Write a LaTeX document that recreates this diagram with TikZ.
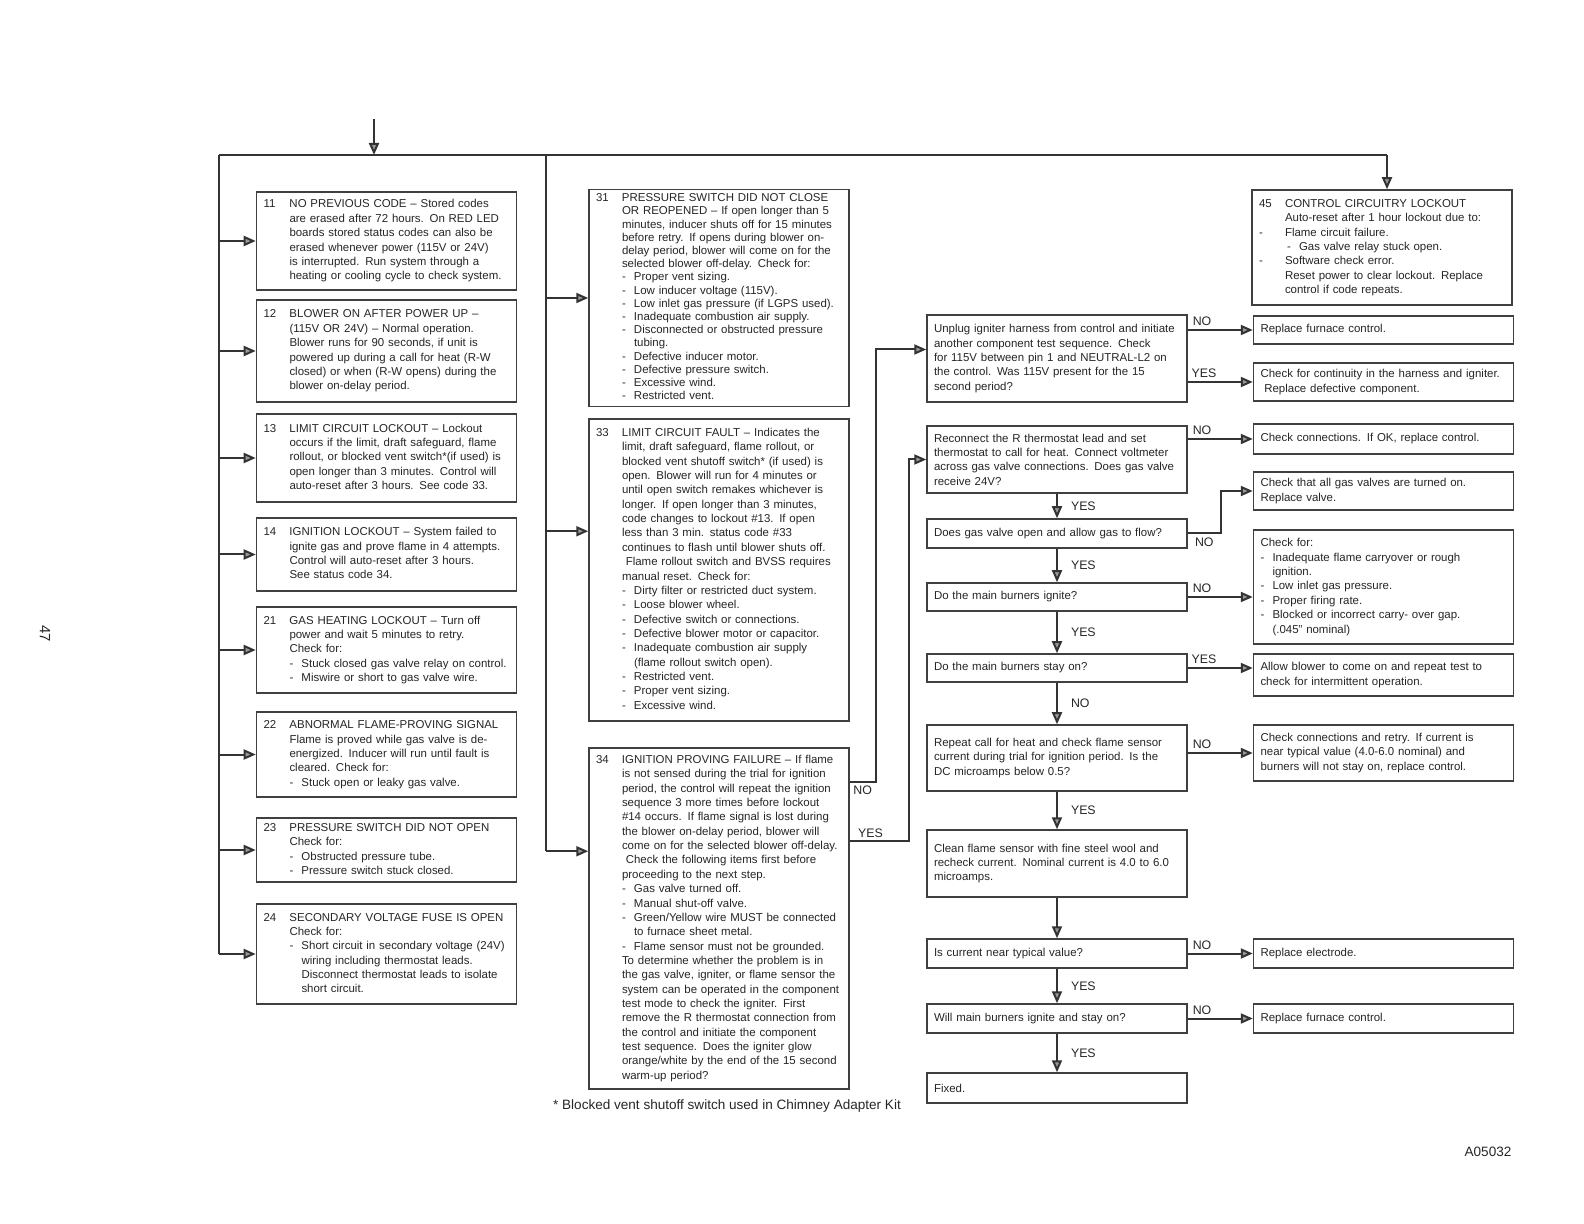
\documentclass[tikz,border=0pt]{standalone}
\usepackage{fontspec}
\setmainfont{Liberation Sans}
\usetikzlibrary{arrows.meta, calc}
\setlength{\parindent}{0pt}

\newcommand{\boxfont}{\fontsize{5.75}{7.2}\selectfont}
\newcommand{\bul}{\makebox[6bp][l]{-}}
\newcommand{\ind}{\hspace*{6bp}}
\newcommand{\ctab}[1]{\begin{tabular}{@{}p{13bp}@{}l@{}}#1\end{tabular}}

\begin{document}
\begin{tikzpicture}[
    x=0.5bp, y=-0.5bp,
    box/.style={rectangle, draw=black!75, line width=0.75bp, fill=white, text=black!85, font=\boxfont, align=left, text width=123bp, minimum width=130bp, inner xsep=3.5bp, inner ysep=1.5bp},
    arrow/.style={-{Triangle[length=6bp, width=5bp, fill=black!40]}, line width=1bp, black!80},
    bus/.style={line width=1bp, black!80},
    lab/.style={font=\fontsize{6.2}{7}\selectfont, text=black!85, inner sep=1.5bp}
]
\useasboundingbox (0,0) rectangle (1584,1224);

% status codes, left column
\node[box, minimum height=49bp] (c11) at (386.5,241) {\ctab{11 & NO PREVIOUS CODE -- Stored codes\\
 & are erased after 72 hours.  On RED LED\\
 & boards stored status codes can also be\\
 & erased whenever power (115V or 24V)\\
 & is interrupted.  Run system through a\\
 & heating or cooling cycle to check system.}};
\node[box, minimum height=51bp] (c12) at (386.5,351) {\ctab{12 & BLOWER ON AFTER POWER UP --\\
 & (115V OR 24V) -- Normal operation.\\
 & Blower runs for 90 seconds, if unit is\\
 & powered up during a call for heat (R-W\\
 & closed) or when (R-W opens) during the\\
 & blower on-delay period.}};
\node[box, minimum height=44bp] (c13) at (386.5,458) {\ctab{13 & LIMIT CIRCUIT LOCKOUT -- Lockout\\
 & occurs if the limit, draft safeguard, flame\\
 & rollout, or blocked vent switch*(if used) is\\
 & open longer than 3 minutes.  Control will\\
 & auto-reset after 3 hours.  See code 33.}};
\node[box, minimum height=36.5bp] (c14) at (386.5,554.5) {\ctab{14 & IGNITION LOCKOUT -- System failed to\\
 & ignite gas and prove flame in 4 attempts.\\
 & Control will auto-reset after 3 hours.\\
 & See status code 34.}};
\node[box, minimum height=43bp] (c21) at (386.5,650) {\ctab{21 & GAS HEATING LOCKOUT -- Turn off\\
 & power and wait 5 minutes to retry.\\
 & Check for:\\
 & \bul Stuck closed gas valve relay on control.\\
 & \bul Miswire or short to gas valve wire.}};
\node[box, minimum height=42.5bp] (c22) at (386.5,754.5) {\ctab{22 & ABNORMAL FLAME-PROVING SIGNAL\\
 & Flame is proved while gas valve is de-\\
 & energized.  Inducer will run until fault is\\
 & cleared.  Check for:\\
 & \bul Stuck open or leaky gas valve.}};
\node[box, minimum height=32bp] (c23) at (386.5,850) {\ctab{23 & PRESSURE SWITCH DID NOT OPEN\\
 & Check for:\\
 & \bul Obstructed pressure tube.\\
 & \bul Pressure switch stuck closed.}};
\node[box, minimum height=50bp] (c24) at (386.5,954) {\ctab{24 & SECONDARY VOLTAGE FUSE IS OPEN\\
 & Check for:\\
 & \bul Short circuit in secondary voltage (24V)\\
 & \ind wiring including thermostat leads.\\
 & \ind Disconnect thermostat leads to isolate\\
 & \ind short circuit.}};

% status codes, middle column
\node[box, minimum height=106bp] (c31) at (719,298) {\def\arraystretch{0.92}\ctab{31 & PRESSURE SWITCH DID NOT CLOSE\\
 & OR REOPENED -- If open longer than 5\\
 & minutes, inducer shuts off for 15 minutes\\
 & before retry.  If opens during blower on-\\
 & delay period, blower will come on for the\\
 & selected blower off-delay.  Check for:\\
 & \bul Proper vent sizing.\\
 & \bul Low inducer voltage (115V).\\
 & \bul Low inlet gas pressure (if LGPS used).\\
 & \bul Inadequate combustion air supply.\\
 & \bul Disconnected or obstructed pressure\\
 & \ind tubing.\\
 & \bul Defective inducer motor.\\
 & \bul Defective pressure switch.\\
 & \bul Excessive wind.\\
 & \bul Restricted vent.}};
\node[box, minimum height=151bp] (c33) at (719,570) {\ctab{33 & LIMIT CIRCUIT FAULT -- Indicates the\\
 & limit, draft safeguard, flame rollout, or\\
 & blocked vent shutoff switch* (if used) is\\
 & open.  Blower will run for 4 minutes or\\
 & until open switch remakes whichever is\\
 & longer.  If open longer than 3 minutes,\\
 & code changes to lockout \#13.  If open\\
 & less than 3 min. status code \#33\\
 & continues to flash until blower shuts off.\\
 & \ Flame rollout switch and BVSS requires\\
 & manual reset.  Check for:\\
 & \bul Dirty filter or restricted duct system.\\
 & \bul Loose blower wheel.\\
 & \bul Defective switch or connections.\\
 & \bul Defective blower motor or capacitor.\\
 & \bul Inadequate combustion air supply\\
 & \ind (flame rollout switch open).\\
 & \bul Restricted vent.\\
 & \bul Proper vent sizing.\\
 & \bul Excessive wind.}};
\node[box, minimum height=170.5bp] (c34) at (719,918.5) {\ctab{34 & IGNITION PROVING FAILURE -- If flame\\
 & is not sensed during the trial for ignition\\
 & period, the control will repeat the ignition\\
 & sequence 3 more times before lockout\\
 & \#14 occurs.  If flame signal is lost during\\
 & the blower on-delay period, blower will\\
 & come on for the selected blower off-delay.\\
 & \ Check the following items first before\\
 & proceeding to the next step.\\
 & \bul Gas valve turned off.\\
 & \bul Manual shut-off valve.\\
 & \bul Green/Yellow wire MUST be connected\\
 & \ind to furnace sheet metal.\\
 & \bul Flame sensor must not be grounded.\\
 & To determine whether the problem is in\\
 & the gas valve, igniter, or flame sensor the\\
 & system can be operated in the component\\
 & test mode to check the igniter.  First\\
 & remove the R thermostat connection from\\
 & the control and initiate the component\\
 & test sequence.  Does the igniter glow\\
 & orange/white by the end of the 15 second\\
 & warm-up period?}};

% control circuitry lockout
\node[box, minimum height=57.5bp] (c45) at (1382,247.5) {\ctab{45 & CONTROL CIRCUITRY LOCKOUT\\
 & Auto-reset after 1 hour lockout due to:\\
- & Flame circuit failure.\\
 & \hspace*{1bp}\bul Gas valve relay stuck open.\\
- & Software check error.\\
 & Reset power to clear lockout.  Replace\\
 & control if code repeats.}};

% test sequence, centre column
\node[box, minimum height=43.5bp] (unplug) at (1057,358.5) {Unplug igniter harness from control and initiate\\
another component test sequence.  Check\\
for 115V between pin 1 and NEUTRAL-L2 on\\
the control.  Was 115V present for the 15\\
second period?};
\node[box, minimum height=33.5bp] (reconnect) at (1057,459.5) {Reconnect the R thermostat lead and set\\
thermostat to call for heat.  Connect voltmeter\\
across gas valve connections.  Does gas valve\\
receive 24V?};
\node[box, minimum height=14.5bp] (gas) at (1057,533.5) {Does gas valve open and allow gas to flow?};
\node[box, minimum height=14bp] (ignite) at (1057,597) {Do the main burners ignite?};
\node[box, minimum height=14bp] (stayon) at (1057,668) {Do the main burners stay on?};
\node[box, minimum height=33bp] (repeat) at (1057,758) {Repeat call for heat and check flame sensor\\
current during trial for ignition period.  Is the\\
DC microamps below 0.5?};
\node[box, minimum height=33.5bp] (clean) at (1057,863.5) {Clean flame sensor with fine steel wool and\\
recheck current.  Nominal current is 4.0 to 6.0\\
microamps.};
\node[box, minimum height=14.5bp] (iscur) at (1057,953.5) {Is current near typical value?};
\node[box, minimum height=14.5bp] (will) at (1057,1018.5) {Will main burners ignite and stay on?};
\node[box, minimum height=15bp] (fixed) at (1057,1088) {Fixed.};

% remedies, right column
\node[box, minimum height=14bp] (rfc) at (1383.5,330) {Replace furnace control.};
\node[box, minimum height=19bp] (cont) at (1383.5,382) {Check for continuity in the harness and igniter.\\
\ Replace defective component.};
\node[box, minimum height=15bp] (chk) at (1383.5,439) {Check connections.  If OK, replace control.};
\node[box, minimum height=19bp] (valves) at (1383.5,491) {Check that all gas valves are turned on.\\
Replace valve.};
\node[box, minimum height=57bp] (checkfor) at (1383.5,587) {Check for:\\
\bul Inadequate flame carryover or rough\\
\ind ignition.\\
\bul Low inlet gas pressure.\\
\bul Proper firing rate.\\
\bul Blocked or incorrect carry- over gap.\\
\ind (.045'' nominal)};
\node[box, minimum height=21bp] (allow) at (1383.5,675) {Allow blower to come on and repeat test to\\
check for intermittent operation.};
\node[box, minimum height=28bp] (retry) at (1383.5,753) {Check connections and retry.  If current is\\
near typical value (4.0-6.0 nominal) and\\
burners will not stay on, replace control.};
\node[box, minimum height=14.5bp] (electrode) at (1383.5,953.5) {Replace electrode.};
\node[box, minimum height=14.5bp] (rfc2) at (1383.5,1018.5) {Replace furnace control.};

% loose texts
\node[font=\fontsize{6.8}{8}\selectfont, text=black!85] (note) at (727,1106) {* Blocked vent shutoff switch used in Chimney Adapter Kit};
\node[font=\fontsize{7.5}{9}\selectfont, text=black!85, rotate=-90] (page) at (45,634) {47};
\node[font=\fontsize{6.8}{8}\selectfont, text=black!85] (fig) at (1488,1152) {A05032};

% feed lines
\coordinate (top) at (374,119);
\coordinate (busL) at (219,155);
\coordinate (busM) at (546,155);
\coordinate (in33) at ($(c33.north west)+(0,113)$);
\coordinate (in34) at ($(c34.north west)+(0,104)$);
\coordinate (in45) at ($(c45.north)+(5,0)$);

\draw[arrow] (top) -- (top |- busL);
\draw[bus] (busL) -- (in45 |- busL);
\draw[arrow] (in45 |- busL) -- (in45);
\draw[bus] (busL) -- (busL |- c24.west);
\foreach \n in {11,12,13,14,21,22,23,24}
    \draw[arrow] (busL |- c\n.west) -- (c\n.west);
\draw[bus] (busM) -- (busM |- in34);
\draw[arrow] (busM |- c31.west) -- (c31.west);
\draw[arrow] (busM |- in33) -- (in33);
\draw[arrow] (busM |- in34) -- (in34);

% igniter check
\draw[arrow] ($(c34.north east)+(0,35)$) -- node[lab, below]{NO} ++(26,0) |- ($(unplug.west)+(0,-9)$);
\draw[arrow] ($(c34.north east)+(0,94)$) -- node[lab, above, pos=0.35]{YES} ++(59,0) |- (reconnect.west);

% centre column steps
\foreach \a/\b/\t in {reconnect/gas/YES, gas/ignite/YES, ignite/stayon/YES, stayon/repeat/NO, repeat/clean/YES, iscur/will/YES, will/fixed/YES}
    \draw[arrow] (\a) -- node[lab, right=5bp]{\t} (\b);
\draw[arrow] (clean) -- (iscur);

% branches to the right
\draw[arrow] (unplug.east |- rfc.west) -- node[lab, above, pos=0.22]{NO} (rfc.west);
\draw[arrow] (unplug.east |- cont.west) -- node[lab, above, pos=0.25]{YES} (cont.west);
\draw[arrow] (reconnect.east |- chk.west) -- node[lab, above, pos=0.22]{NO} (chk.west);
\draw[arrow] (gas.east) -- node[lab, below]{NO} ++(33,0) |- (valves.west);
\draw[arrow] (ignite.east) -- node[lab, above, pos=0.22]{NO} (ignite.east -| checkfor.west);
\draw[arrow] (stayon.east) -- node[lab, above, pos=0.25]{YES} (stayon.east -| allow.west);
\draw[arrow] (repeat.east |- retry.west) -- node[lab, above, pos=0.22]{NO} (retry.west);
\draw[arrow] (iscur) -- node[lab, above, pos=0.22]{NO} (electrode);
\draw[arrow] (will) -- node[lab, above, pos=0.22]{NO} (rfc2);
\end{tikzpicture}
\end{document}
